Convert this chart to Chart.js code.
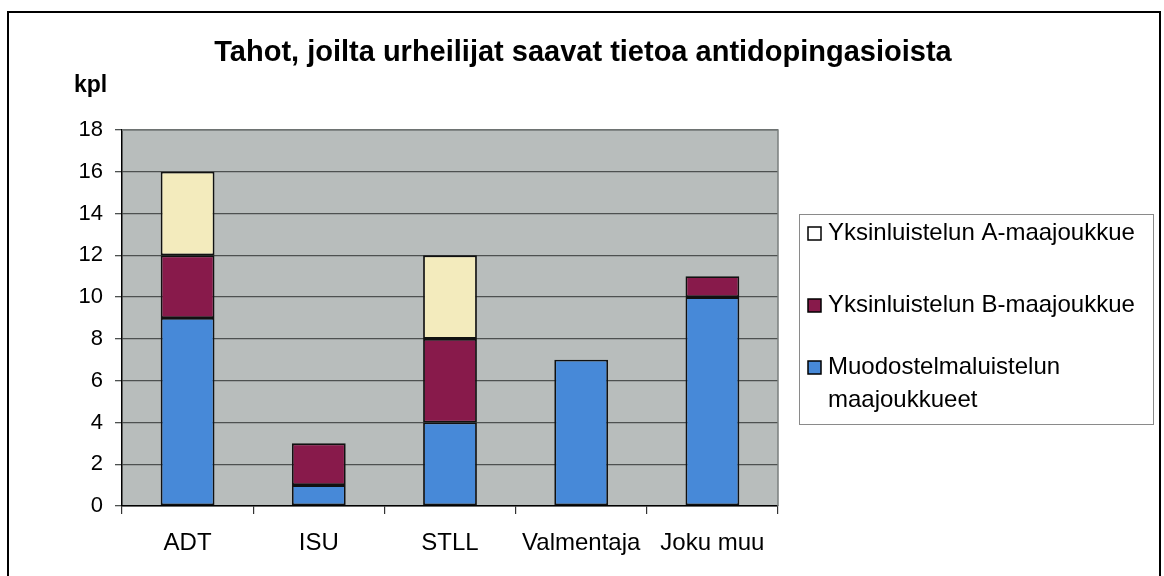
<!DOCTYPE html>
<html lang="fi">
<head>
    <meta charset="UTF-8">
    <title>Tahot, joilta urheilijat saavat tietoa antidopingasioista</title>
    <script src="https://cdn.jsdelivr.net/npm/chart.js"></script>
    <style>
        body {
            margin: 0;
            background: #ffffff;
        }
        #wrap {
            width: 1164px;
            height: 576px;
            position: relative;
        }
    </style>
</head>
<body>
    <div id="wrap"><canvas id="chart"></canvas></div>

    <script>
        // Data
        const categories = ['ADT', 'ISU', 'STLL', 'Valmentaja', 'Joku muu'];
        const muodostelma = [9, 1, 4, 7, 10];
        const yksinB = [3, 2, 4, 0, 1];
        const yksinA = [4, 0, 4, 0, 0];
        const yTicks = [0, 2, 4, 6, 8, 10, 12, 14, 16, 18];
        const chartTitle = 'Tahot, joilta urheilijat saavat tietoa antidopingasioista';
        const unitLabel = 'kpl';

        const FONT = '"Liberation Sans", Arial, sans-serif';

        // Gray plot background, outer frame, title and "kpl" label
        const backdrop = {
            id: 'backdrop',
            beforeDraw(chart) {
                const ctx = chart.ctx;
                const a = chart.chartArea;
                ctx.save();
                ctx.fillStyle = '#ffffff';
                ctx.fillRect(0, 0, chart.width, chart.height);
                ctx.fillStyle = '#b8bdbc';
                ctx.fillRect(a.left, a.top, a.right - a.left, a.bottom - a.top);
                ctx.restore();
            },
            afterDraw(chart) {
                const ctx = chart.ctx;
                const a = chart.chartArea;
                ctx.save();
                // plot area edge
                ctx.strokeStyle = '#7a7f7e';
                ctx.lineWidth = 1.5;
                ctx.beginPath();
                ctx.moveTo(a.left, a.top);
                ctx.lineTo(a.right, a.top);
                ctx.lineTo(a.right, a.bottom);
                ctx.stroke();
                // outer frame
                ctx.strokeStyle = '#000000';
                ctx.lineWidth = 2;
                ctx.strokeRect(8, 12, 1152, 600);
                // title
                ctx.fillStyle = '#000000';
                ctx.font = 'bold 29px ' + FONT;
                ctx.textAlign = 'center';
                ctx.textBaseline = 'middle';
                ctx.fillText(chartTitle, 583, 53);
                // unit label
                ctx.font = 'bold 23px ' + FONT;
                ctx.textAlign = 'left';
                ctx.fillText(unitLabel, 74, 86);
                ctx.restore();
            }
        };

        // Legend box on the right, top entry first
        const sideLegend = {
            id: 'sideLegend',
            afterDraw(chart) {
                const ctx = chart.ctx;
                const sets = chart.data.datasets;
                const box = { x: 799, y: 214, w: 354, h: 210 };
                const rows = [233, 305, 367];
                ctx.save();
                ctx.fillStyle = '#ffffff';
                ctx.fillRect(box.x, box.y, box.w, box.h);
                ctx.strokeStyle = '#8a8a8a';
                ctx.lineWidth = 1;
                ctx.strokeRect(box.x + 0.5, box.y + 0.5, box.w, box.h);
                ctx.font = '24px ' + FONT;
                ctx.textAlign = 'left';
                ctx.textBaseline = 'middle';
                for (let i = 0; i < sets.length; i++) {
                    const ds = sets[sets.length - 1 - i];
                    const y = rows[i];
                    ctx.fillStyle = ds.legendColor || ds.backgroundColor;
                    ctx.fillRect(808, y - 6, 13, 13);
                    ctx.strokeStyle = '#000000';
                    ctx.lineWidth = 1.5;
                    ctx.strokeRect(808, y - 6, 13, 13);
                    ctx.fillStyle = '#000000';
                    ds.label.split('\n').forEach((line, j) => {
                        ctx.fillText(line, 828, y + j * 33);
                    });
                }
                ctx.restore();
            }
        };

        new Chart(document.getElementById('chart'), {
            type: 'bar',
            data: {
                labels: categories,
                datasets: [
                    {
                        label: 'Muodostelmaluistelun\nmaajoukkueet',
                        data: muodostelma,
                        backgroundColor: '#4789d8',
                        borderColor: '#111111',
                        borderWidth: 1.8,
                        borderSkipped: false
                    },
                    {
                        label: 'Yksinluistelun B-maajoukkue',
                        data: yksinB,
                        backgroundColor: '#881a4b',
                        borderColor: '#111111',
                        borderWidth: 1.8,
                        borderSkipped: false
                    },
                    {
                        label: 'Yksinluistelun A-maajoukkue',
                        data: yksinA,
                        backgroundColor: '#f3ebbd',
                        legendColor: '#ffffff',
                        borderColor: '#111111',
                        borderWidth: 1.8,
                        borderSkipped: false
                    }
                ]
            },
            options: {
                responsive: true,
                maintainAspectRatio: false,
                animation: false,
                layout: { padding: { left: 0, right: 386, top: 130, bottom: 0 } },
                datasets: {
                    bar: { categoryPercentage: 1.0, barPercentage: 0.41 }
                },
                plugins: {
                    legend: { display: false },
                    tooltip: { enabled: false },
                    title: { display: false }
                },
                scales: {
                    x: {
                        stacked: true,
                        afterFit(s) { s.height = 70; },
                        grid: {
                            drawOnChartArea: false,
                            drawTicks: true,
                            tickLength: 8,
                            color: '#333333',
                            lineWidth: 1.2
                        },
                        border: { color: '#000000', width: 1.5 },
                        ticks: {
                            color: '#000000',
                            padding: 15,
                            font: { family: FONT, size: 24 }
                        }
                    },
                    y: {
                        stacked: true,
                        min: 0,
                        max: 18,
                        afterFit(s) { s.width = 122; },
                        afterBuildTicks(s) { s.ticks = yTicks.map(v => ({ value: v })); },
                        grid: {
                            color: '#4d5150',
                            lineWidth: 1.3,
                            tickLength: 7
                        },
                        border: { color: '#000000', width: 1.5 },
                        ticks: {
                            color: '#000000',
                            padding: 12,
                            font: { family: FONT, size: 22 }
                        }
                    }
                }
            },
            plugins: [backdrop, sideLegend]
        });
    </script>
</body>
</html>
